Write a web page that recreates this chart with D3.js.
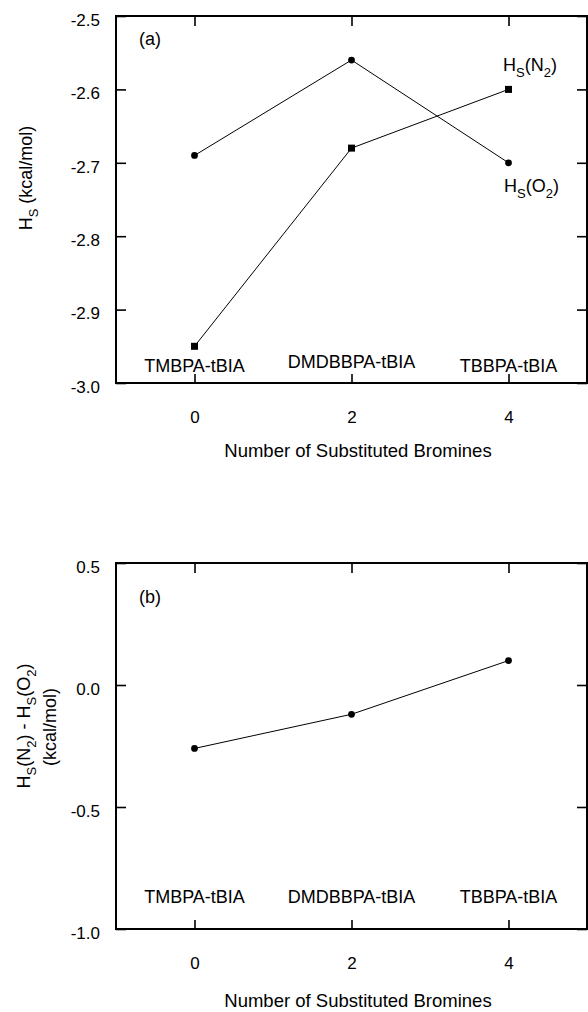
<!DOCTYPE html>
<html>
<head>
<meta charset="utf-8">
<script src="https://cdn.jsdelivr.net/npm/d3@7"></script>
<style>
  html, body { margin: 0; padding: 0; background: #fff; }
  svg { display: block; font-family: "Liberation Sans", Arial, Helvetica, sans-serif; }
  text { fill: #000; }
</style>
</head>
<body>
<svg id="chart" width="588" height="1012"></svg>
<script>
// ---------------- data ----------------
const bromines = [0, 2, 4];
const compounds = ["TMBPA-tBIA", "DMDBBPA-tBIA", "TBBPA-tBIA"];
const hsO2 = [-2.69, -2.56, -2.70];
const hsN2 = [-2.95, -2.68, -2.60];
const hsDiff = [-0.26, -0.12, 0.10];
const xTicks = [0, 2, 4];
const yTicksA = [-3.0, -2.9, -2.8, -2.7, -2.6, -2.5];
const yTicksB = [-1.0, -0.5, 0.0, 0.5];
const xTitle = "Number of Substituted Bromines";

// ---------------- layout ----------------
const svg = d3.select("#chart");
const L = 116, R = 587;
const x = d3.scaleLinear().domain([-1, 5]).range([L, R]);

function panel(top, bottom, yDomain, yTicks, opts) {
  const y = d3.scaleLinear().domain(yDomain).range([bottom, top]);
  const g = svg.append("g");
  const fmt = d => d.toFixed(1);

  // left axis
  const gl = g.append("g").attr("transform", `translate(${L},0)`)
    .call(d3.axisLeft(y).tickValues(yTicks).tickFormat(fmt).tickSizeInner(-10).tickSizeOuter(0).tickPadding(16));
  gl.selectAll("text").attr("font-size", 17).attr("dy", "0.55em").attr("font-family", null);
  // right axis
  g.append("g").attr("transform", `translate(${R},0)`)
    .call(d3.axisRight(y).tickValues(yTicks).tickFormat("").tickSizeInner(-10).tickSizeOuter(0));
  // top axis
  g.append("g").attr("transform", `translate(0,${top})`)
    .call(d3.axisTop(x).tickValues(xTicks).tickFormat("").tickSizeInner(-10).tickSizeOuter(0));
  // bottom axis
  const gb = g.append("g").attr("transform", `translate(0,${bottom})`)
    .call(d3.axisBottom(x).tickValues(xTicks).tickFormat(d3.format("d")).tickSizeInner(-9).tickSizeOuter(0).tickPadding(28));
  gb.selectAll("text").attr("font-size", 17).attr("font-family", null);

  g.selectAll(".domain").remove();
  g.selectAll(".tick line").attr("stroke", "#000").attr("stroke-width", 1.6);

  // frame
  g.append("rect").attr("x", L).attr("y", top).attr("width", R - L).attr("height", bottom - top)
    .attr("fill", "none").attr("stroke", "#000").attr("stroke-width", 2);

  // x title
  g.append("text").attr("x", 358).attr("y", bottom + opts.titleOff)
    .attr("text-anchor", "middle").attr("font-size", 18.5).text(xTitle);

  // compound labels
  g.selectAll(".cmp").data(compounds).enter().append("text")
    .attr("x", (d, i) => x(bromines[i]))
    .attr("y", (d, i) => bottom - opts.cmpOff[i])
    .attr("text-anchor", "middle").attr("font-size", 18).text(d => d);

  // panel tag
  g.append("text").attr("x", 139).attr("y", top + opts.tagOff)
    .attr("font-size", 18).text(opts.tag);

  return { g, y };
}

function series(g, y, vals, shape) {
  const pts = vals.map((v, i) => [bromines[i], v]);
  g.append("path").datum(pts)
    .attr("d", d3.line().x(d => x(d[0])).y(d => y(d[1])))
    .attr("fill", "none").attr("stroke", "#000").attr("stroke-width", 1);
  if (shape === "circle") {
    g.selectAll(null).data(pts).enter().append("circle")
      .attr("cx", d => x(d[0])).attr("cy", d => y(d[1])).attr("r", 3.4).attr("fill", "#000");
  } else {
    g.selectAll(null).data(pts).enter().append("rect")
      .attr("x", d => x(d[0]) - 3.5).attr("y", d => y(d[1]) - 3.5)
      .attr("width", 7).attr("height", 7).attr("fill", "#000");
  }
}

function subText(sel, parts, subSize, shift) {
  // parts: array of [text, isSub]
  let cur = 0;
  parts.forEach(([t, sub]) => {
    const ts = sel.append("tspan").text(t);
    const target = sub ? shift : 0;
    ts.attr("dy", target - cur);
    if (sub) ts.attr("font-size", subSize);
    cur = target;
  });
}

// ---------------- panel (a) ----------------
const A = panel(16, 383, [-3.0, -2.5], yTicksA,
  { titleOff: 74, cmpOff: [11, 15, 11], tagOff: 29, tag: "(a)" });
series(A.g, A.y, hsO2, "circle");
series(A.g, A.y, hsN2, "square");

subText(A.g.append("text").attr("x", 503).attr("y", 71).attr("font-size", 18),
  [["H", false], ["S", true], ["(N", false], ["2", true], [")", false]], 13, 6);
subText(A.g.append("text").attr("x", 504).attr("y", 192).attr("font-size", 18),
  [["H", false], ["S", true], ["(O", false], ["2", true], [")", false]], 13, 6);

subText(A.g.append("text").attr("transform", "translate(32,178) rotate(-90)")
  .attr("text-anchor", "middle").attr("font-size", 18),
  [["H", false], ["S", true], [" (kcal/mol)", false]], 13, 6);

// ---------------- panel (b) ----------------
const B = panel(563, 929, [-1.0, 0.5], yTicksB,
  { titleOff: 78, cmpOff: [26, 26, 26], tagOff: 40, tag: "(b)" });
series(B.g, B.y, hsDiff, "circle");

subText(B.g.append("text").attr("transform", "translate(30,726) rotate(-90)")
  .attr("text-anchor", "middle").attr("font-size", 18),
  [["H", false], ["S", true], ["(N", false], ["2", true], [") - H", false], ["S", true], ["(O", false], ["2", true], [")", false]], 13, 6);
B.g.append("text").attr("transform", "translate(56,727) rotate(-90)")
  .attr("text-anchor", "middle").attr("font-size", 18).text("(kcal/mol)");
</script>
</body>
</html>
